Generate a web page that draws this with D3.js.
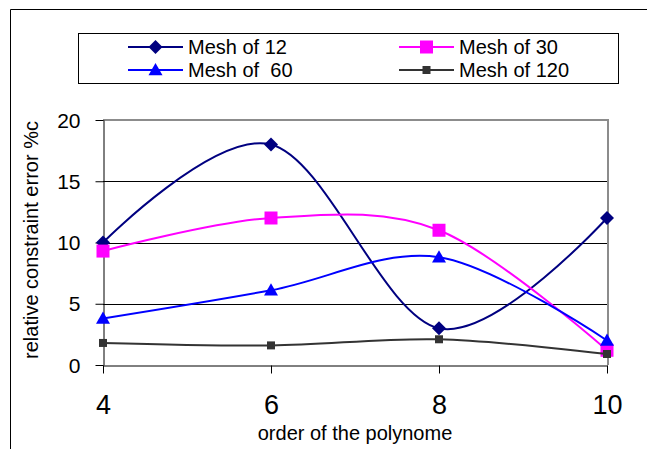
<!DOCTYPE html>
<html>
<head>
<meta charset="utf-8">
<script src="https://cdn.jsdelivr.net/npm/d3@7"></script>
<style>
  body { margin: 0; background: #fff; }
  text { font-family: "Liberation Sans", Arial, sans-serif; fill: #000; }
</style>
</head>
<body>
<div class="chart"></div>
<script>
const orders = [4, 6, 8, 10];
const mesh12 = [10, 18, 3, 12];
const mesh30 = [9.3, 12, 11, 1.2];
const mesh60 = [3.8, 6.1, 8.8, 2];
const mesh120 = [1.8, 1.6, 2.1, 0.9];
const yTicks = [0, 5, 10, 15, 20];
const seriesNames = ["Mesh of 12", "Mesh of 30", "Mesh of  60", "Mesh of 120"];

const width = 647;
const height = 449;

const svg = d3.select(".chart")
    .append("svg")
    .attr("width", width)
    .attr("height", height);

// outer frame (only top and left visible)
svg.append("path")
    .attr("d", "M10.5," + height + "V9.5H" + width)
    .attr("fill", "none")
    .attr("stroke", "#000")
    .attr("stroke-width", 1);

const x = d3.scalePoint().domain(orders).range([103, 607]);
const y = d3.scaleLinear().domain([0, 20]).range([365, 120]);

// symbols
const diamond = s => `M0,${-s}L${s},0L0,${s}L${-s},0Z`;
const square = s => `M${-s},${-s}H${s}V${s}H${-s}Z`;
const triangle = s => `M0,${-s}L${s},${s * 0.75}H${-s}Z`;

const series = [
    { name: seriesNames[0], values: mesh12, color: "#000080", shape: diamond(7) },
    { name: seriesNames[1], values: mesh30, color: "#ff00ff", shape: square(6.5) },
    { name: seriesNames[2], values: mesh60, color: "#0000ff", shape: triangle(7) },
    { name: seriesNames[3], values: mesh120, color: "#333333", shape: square(4) }
];

// grid lines
svg.append("g")
    .selectAll("line")
    .data([5, 10, 15])
    .enter()
    .append("line")
    .attr("x1", x(4))
    .attr("x2", x(10))
    .attr("y1", d => Math.round(y(d)) + 0.5)
    .attr("y2", d => Math.round(y(d)) + 0.5)
    .attr("stroke", "#000")
    .attr("stroke-width", 1);

// top and right border in gray
svg.append("path")
    .attr("d", `M${x(4)},${y(20)}H${x(10) + 1}V${y(0)}`)
    .attr("fill", "none")
    .attr("stroke", "#8c8c8c")
    .attr("stroke-width", 2);

const yAxis = svg.append("g")
    .attr("transform", "translate(" + (x(4) + 0.5) + ",0)")
    .call(d3.axisLeft(y).tickValues(yTicks).tickSize(8).tickSizeOuter(0).tickPadding(15));
yAxis.selectAll("text")
    .style("font-size", "21px")
    .attr("dy", "0.34em");

const xAxis = svg.append("g")
    .attr("transform", "translate(0," + (y(0) + 0.5) + ")")
    .call(d3.axisBottom(x).tickSize(8).tickSizeOuter(0));
xAxis.selectAll("text")
    .style("font-size", "27px")
    .attr("y", 48)
    .attr("dy", "0");

svg.selectAll(".domain, .tick line").attr("stroke", "#000").attr("stroke-width", 1);

// axis titles
svg.append("text")
    .attr("x", (x(4) + x(10)) / 2)
    .attr("y", 440)
    .attr("text-anchor", "middle")
    .style("font-size", "20px")
    .text("order of the polynome");

svg.append("text")
    .attr("transform", "translate(38,240) rotate(-90)")
    .attr("text-anchor", "middle")
    .style("font-size", "20px")
    .text("relative constraint error %c");

// lines
const line = d3.line()
    .x((d, i) => x(orders[i]))
    .y(d => y(d))
    .curve(d3.curveCatmullRom.alpha(0));

const sg = svg.selectAll(".series")
    .data(series)
    .enter()
    .append("g")
    .attr("class", "series");

sg.append("path")
    .attr("d", d => line(d.values))
    .attr("fill", "none")
    .attr("stroke", d => d.color)
    .attr("stroke-width", 2);

sg.each(function (s) {
    d3.select(this).selectAll(".mark")
        .data(s.values)
        .enter()
        .append("path")
        .attr("class", "mark")
        .attr("d", s.shape)
        .attr("transform", (d, i) => "translate(" + x(orders[i]) + "," + y(d) + ")")
        .attr("fill", s.color);
});

// legend
const legend = svg.append("g");
legend.append("rect")
    .attr("x", 78.5)
    .attr("y", 33.5)
    .attr("width", 540)
    .attr("height", 50)
    .attr("fill", "#fff")
    .attr("stroke", "#000")
    .attr("stroke-width", 1);

const li = legend.selectAll(".item")
    .data(series)
    .enter()
    .append("g")
    .attr("class", "item")
    .attr("transform", (d, i) => "translate(" + (i % 2 ? 399 : 128) + "," + (i < 2 ? 47 : 70) + ")");

li.append("line")
    .attr("x1", 0)
    .attr("x2", 55)
    .attr("stroke", d => d.color)
    .attr("stroke-width", 2);

li.append("path")
    .attr("d", d => d.shape)
    .attr("transform", "translate(27.5,0)")
    .attr("fill", d => d.color);

li.append("text")
    .attr("x", 60)
    .attr("dy", "0.36em")
    .style("font-size", "20px")
    .style("white-space", "pre")
    .text(d => d.name);
</script>
</body>
</html>
